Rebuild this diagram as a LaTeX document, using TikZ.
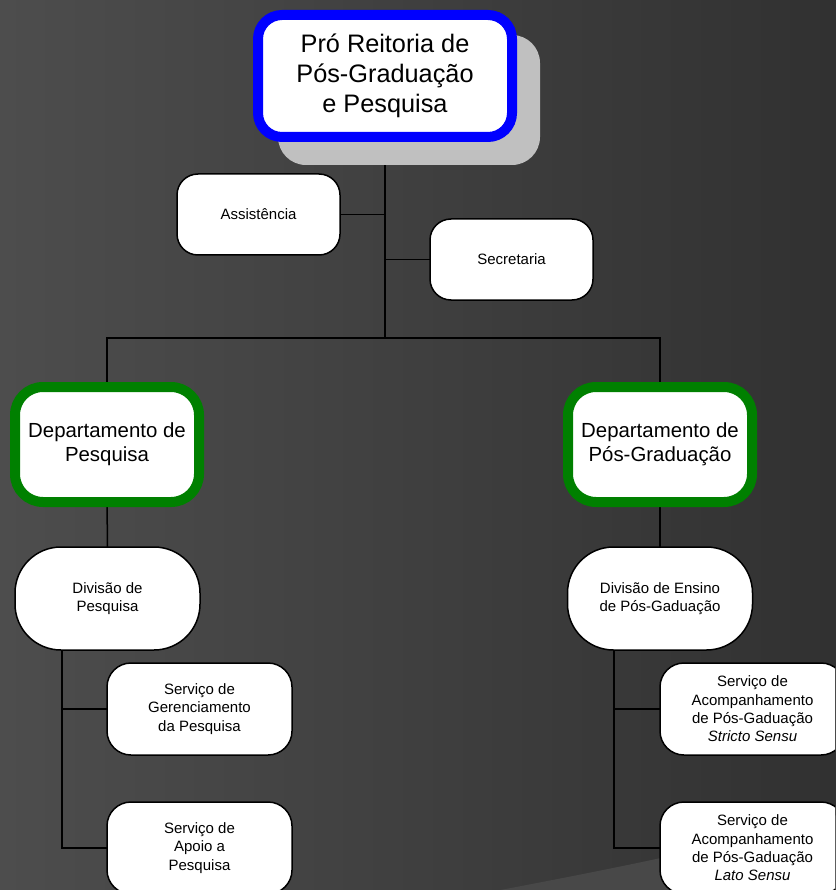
\documentclass[tikz,border=0pt]{standalone}
\usepackage{fontspec}
\setmainfont{Liberation Sans}
\pgfdeclarelayer{bglayer}
\pgfdeclarelayer{linelayer}
\pgfsetlayers{bglayer,linelayer,main}
\definecolor{bgtop}{HTML}{5C5C5C}
\definecolor{bgbot}{HTML}{222222}
\definecolor{wedge}{HTML}{484848}
\definecolor{shadowgray}{HTML}{C0C0C0}
\definecolor{topblue}{HTML}{0000FF}
\definecolor{depgreen}{HTML}{008000}
\tikzset{
  topbox/.style={draw=topblue, line width=10pt, fill=white, rounded corners=24pt,
    minimum width=254pt, minimum height=122pt, inner sep=0pt, outer sep=0pt,
    align=center, font=\fontsize{25.3}{30}\selectfont},
  shadowbox/.style={fill=shadowgray, rounded corners=28pt,
    minimum width=262pt, minimum height=130pt, inner sep=0pt, outer sep=0pt},
  depbox/.style={draw=depgreen, line width=10pt, fill=white, rounded corners=28pt,
    minimum width=184pt, minimum height=115pt, inner sep=0pt, outer sep=0pt,
    align=center, font=\fontsize{20.4}{24}\selectfont},
  smallbox/.style={draw=black, line width=1.5pt, fill=white, rounded corners=21pt,
    minimum width=163pt, minimum height=81pt, inner sep=0pt, outer sep=0pt,
    align=center, font=\fontsize{15}{18.3}\selectfont},
  divbox/.style={draw=black, line width=1.5pt, fill=white, rounded corners=46pt,
    minimum width=185pt, minimum height=103pt, inner sep=0pt, outer sep=0pt,
    align=center, font=\fontsize{15}{18.3}\selectfont},
  servbox/.style={draw=black, line width=1.5pt, fill=white, rounded corners=24pt,
    minimum width=185pt, minimum height=92pt, inner sep=0pt, outer sep=0pt,
    align=center, font=\fontsize{15}{18.3}\selectfont},
  conn/.style={draw=black, line width=1.5pt}
}
\begin{document}
\begin{tikzpicture}[x=1pt, y=-1pt]
\useasboundingbox (0,0) rectangle (835,890);
\clip (0,0) rectangle (835,890);
\begin{pgfonlayer}{bglayer}
  \begin{scope}[shift={(417.5,445)}, rotate=-45]
    \shade[left color=bgtop, right color=bgbot] (-611,-611) rectangle (611,611);
  \end{scope}
  \fill[wedge] (490,892) .. controls (600,871) and (720,848) .. (837,815) -- (837,892) -- cycle;
\end{pgfonlayer}

% nodes
\node[shadowbox] (topshadow) at (409,100) {};
\node[topbox] (top) at (385,76) {Pró Reitoria de\\Pós-Graduação\\e Pesquisa};

\node[smallbox] (assist) at (258.5,214.5) {Assistência};
\node[smallbox] (secr) at (511.5,259.5) {Secretaria};

\node[depbox] (deppesq) at (107,444.5) {Departamento de\\Pesquisa};
\node[depbox] (deppos) at (660,444.5) {Departamento de\\Pós-Graduação};

\node[divbox] (divpesq) at (107.5,598.5) {Divisão de\\Pesquisa};
\node[divbox] (divens) at (660,598.5) {Divisão de Ensino\\de Pós-Gaduação};

\node[servbox] (sgp) at (199.5,709) {Serviço de\\Gerenciamento\\da Pesquisa};
\node[servbox] (sap) at (199.5,848) {Serviço de\\Apoio a\\Pesquisa};
\node[servbox] (sst) at (752.5,709) {Serviço de\\Acompanhamento\\de Pós-Gaduação\\\textit{Stricto Sensu}};
\node[servbox] (slt) at (752.5,848) {Serviço de\\Acompanhamento\\de Pós-Gaduação\\\textit{Lato Sensu}};

\coordinate (bar) at (386,338);
\coordinate (lspine) at (62,848);
\coordinate (rspine) at (614,848);

\begin{pgfonlayer}{linelayer}
  \draw[conn] (top.south) -- (top.south |- bar);
  \draw[conn] (assist.east) -- (assist.east -| top.south);
  \draw[conn] (secr.west -| top.south) -- (secr.west);
  \draw[conn] (deppesq.north) -- (deppesq.north |- bar) -- (deppos.north |- bar) -- (deppos.north);
  \draw[conn] (deppesq.south) -- (divpesq.north);
  \draw[conn] (deppos.south) -- (divens.north);
  \draw[conn] (lspine |- divpesq.south) -- (lspine) -- (sap.west);
  \draw[conn] (sgp.west -| lspine) -- (sgp.west);
  \draw[conn] (rspine |- divens.south) -- (rspine) -- (slt.west);
  \draw[conn] (sst.west -| rspine) -- (sst.west);
\end{pgfonlayer}
\end{tikzpicture}
\end{document}
